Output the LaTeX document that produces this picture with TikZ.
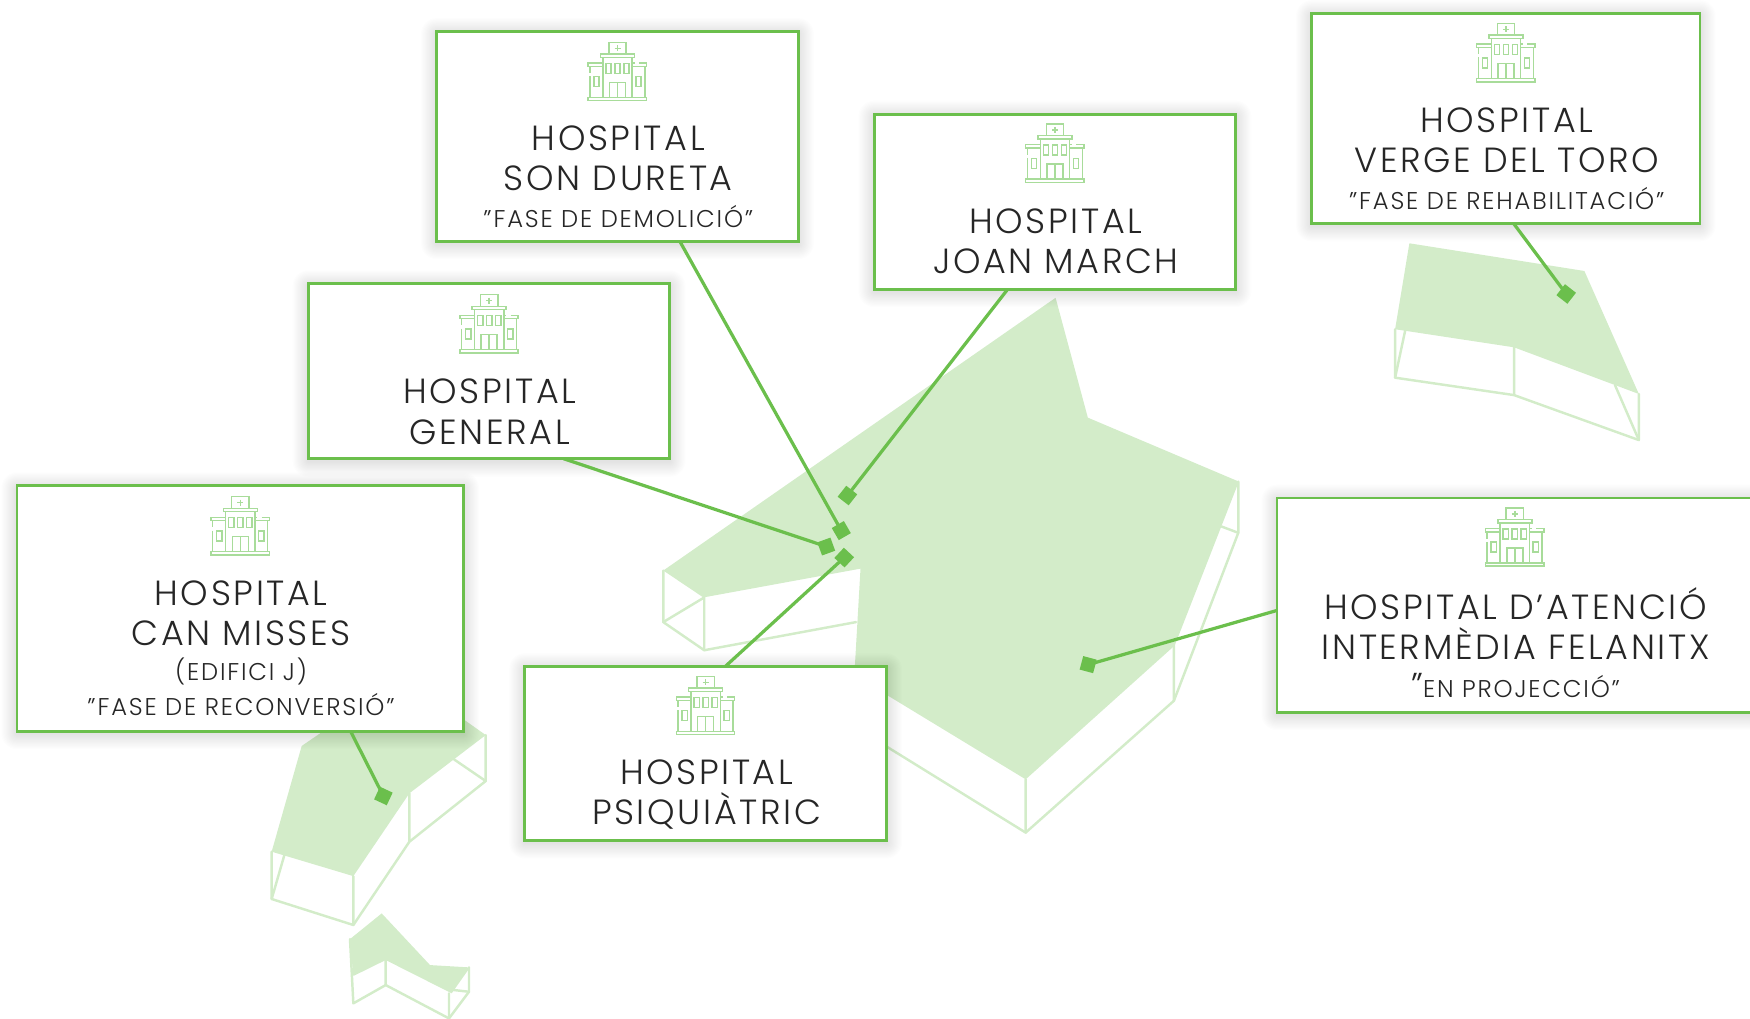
\documentclass[tikz,border=0pt]{standalone}
\usepackage{fontspec}
\setmainfont{Poppins Light}[LetterSpace=7.5]
\usetikzlibrary{calc}
\definecolor{boxgreen}{HTML}{6BBF4C}
\definecolor{palegreen}{HTML}{D3ECC9}
\definecolor{icongreen}{HTML}{A8DC9A}
\definecolor{inktext}{HTML}{262626}
\newcommand{\bigt}{\fontsize{31.3}{36}\selectfont}
\newcommand{\smallt}{\fontsize{21.7}{31}\selectfont}
\newcommand{\infopanel}[5]{%
  \foreach \k in {1,...,14}
    \fill[black,opacity=.007,rounded corners=\k pt] ({#2-#4/2-\k},{#3-#5/2-\k+2}) rectangle ({#2+#4/2+\k},{#3+#5/2+\k+2});
  \node[infobox,minimum width=#4pt,minimum height=#5pt] (#1) at (#2,#3) {};
}
\tikzset{
  x=1pt,y=-1pt,
  massfill/.style={fill=palegreen,draw=none},
  massline/.style={draw=palegreen,line width=2.2pt,line join=round,line cap=round},
  infobox/.style={draw=boxgreen,line width=2.6pt,fill=white,inner sep=0pt},
  labeltext/.style={align=center,inner sep=0pt,text=inktext,font=\bigt},
  leader/.style={draw=boxgreen,line width=2.9pt},
  endmark/.style={fill=boxgreen,draw=none,minimum size=12.5pt,inner sep=0pt,rectangle},
  hospic/.pic={
    \begin{scope}[x=0.2987pt,y=-0.2987pt,draw=icongreen,line width=1.3pt]
      \draw (-25,-87) rectangle (27,-52);
      \draw (1,-78) -- (1,-60) (-8,-69) -- (10,-69);
      \draw (-50,-52) rectangle (52,-42);
      \draw (-43,-42) -- (-43,78) (45,-42) -- (45,78);
      \draw (-87,-25) rectangle (-43,-15);
      \draw (45,-25) -- (52,-25) (65,-25) -- (88,-25) -- (88,-15) -- (45,-15);
      \draw (-82,-15) -- (-82,5) (-82,15) -- (-82,78) (83,-15) -- (83,78);
      \foreach \wx in {-34,-7,20} \draw (\wx,-24) rectangle ++(16,30);
      \draw (-70,16) rectangle (-54,46) (56,16) rectangle (72,46);
      \draw (-23,78) -- (-23,33) -- (25,33) -- (25,78) (1,33) -- (1,78);
      \draw (-87,78) rectangle (88,88);
    \end{scope}
  }
}
\begin{document}
\begin{tikzpicture}
\useasboundingbox (0,0) rectangle (1568,913);
\clip (0,0) rectangle (1568,913);
% building masses
\fill[massfill] (945.8,266.8) -- (974.7,374.2) -- (1110,431.5) -- (1052.6,578.3) -- (919,698.3) -- (765.5,605) -- (771,509.5) -- (630.2,535.3) -- (594.3,511.2) -- cycle;
\draw[massline] (594.3,511.2) -- (594.3,557.4) -- (631,582.6) -- (767,557.4);
\draw[massline] (631,535.3) -- (631,582.6) (594.3,557.4) -- (631,535.3);
\draw[massline] (1109.5,431.5) -- (1109.5,477.4) -- (1051.8,627.9) -- (919,746) -- (780,660);
\draw[massline] (919,698.3) -- (919,746) (1051.8,578.3) -- (1051.8,627.9) (1094.6,471.8) -- (1109.5,477.4);

\fill[massfill] (1262.8,218) -- (1419.6,242.8) -- (1468.4,353) -- (1356.6,311.2) -- (1250,295) -- cycle;
\draw[massline] (1250,295) -- (1250,338.4) -- (1356.6,354) -- (1468.4,394.3) -- (1468.4,353);
\draw[massline] (1356.6,311.2) -- (1356.6,354) (1259,296.3) -- (1250,338.4) (1447,345) -- (1468.4,394.3);

\fill[massfill] (270.3,668.4) -- (300,648) -- (416,645) -- (435.2,658.6) -- (366.8,710.8) -- (316.6,785) -- (243.4,763.1) -- cycle;
\draw[massline] (435.2,658.6) -- (435.2,699.8) -- (366.8,754.2) -- (316.6,828.8) -- (243.4,805.5) -- (243.4,763.1);
\draw[massline] (316.6,785) -- (316.6,828.8) (366.8,710.8) -- (366.8,754.2) (406.8,680.4) -- (435.2,699.8) (254.8,766.1) -- (243.4,805.5);

\fill[massfill] (313.6,841.4) -- (342,818.4) -- (385.3,864.7) -- (421.1,866.8) -- (404.7,890) -- (345.6,860.2) -- (316.6,874.5) -- cycle;
\draw[massline] (313.6,841.4) -- (316.6,899) -- (345.6,882.6) -- (402.3,912.5) -- (420.2,888.6) -- (420.2,866.8);
\draw[massline] (345.6,860.2) -- (345.6,882.6) (402.3,890) -- (402.3,912.5) (406.2,887) -- (420.2,888.6);

% end marks
\node[endmark,rotate=-60] (mdureta) at (753.8,475.4) {};
\node[endmark,rotate=-38] (mjoan) at (759.3,444) {};
\node[endmark,rotate=-70] (mgeneral) at (740.3,489.7) {};
\node[endmark,rotate=-43] (mpsiq) at (756.4,499.6) {};
\node[endmark,rotate=-15] (mfela) at (975,595.5) {};
\node[endmark,rotate=-38] (mverge) at (1403.3,263.4) {};
\node[endmark,rotate=-25] (mmisses) at (343.5,713.2) {};

% boxes
\infopanel{dureta}{553.2}{122.2}{324}{188}
\infopanel{joan}{945.2}{180.7}{324}{157}
\infopanel{verge}{1349.2}{106.2}{348}{188}
\infopanel{general}{438.2}{332.7}{324}{157}
\infopanel{misses}{215.2}{545.2}{400}{220}
\infopanel{psiq}{632.2}{675.2}{324}{156}
\infopanel{fela}{1369.2}{542.2}{450}{192}

% connector free ends on the box edges
\coordinate (cdureta) at (609,216);
\coordinate (cjoan) at (903,259);
\coordinate (cgeneral) at (505,411);
\coordinate (cpsiq) at (650,597);
\coordinate (cfela) at (1144,547);
\coordinate (cverge) at (1356,200);
\coordinate (cmisses) at (314,655);
\draw[leader] (cdureta) -- (mdureta.center);
\draw[leader] (cjoan) -- (mjoan.center);
\draw[leader] (cgeneral) -- (mgeneral.center);
\draw[leader] (cpsiq) -- (mpsiq.center);
\draw[leader] (cfela) -- (mfela.center);
\draw[leader] (cverge) -- (mverge.center);
\draw[leader] (cmisses) -- (mmisses.center);

% icons
\pic (idureta) at (553,64) {hospic};
\pic (ijoan) at (945,137) {hospic};
\pic (iverge) at (1349,47) {hospic};
\pic (igeneral) at (438,290) {hospic};
\pic (imisses) at (215,471) {hospic};
\pic (ipsiq) at (632,632) {hospic};
\pic (ifela) at (1357,481) {hospic};

% labels
\node[labeltext] (tdureta) at (554,158.5) {HOSPITAL\\SON DURETA\\[-3pt]{\smallt "FASE DE DEMOLICIÓ"}};
\node[labeltext] (tjoan) at (946,216.5) {HOSPITAL\\JOAN MARCH};
\node[labeltext] (tverge) at (1350,142.5) {HOSPITAL\\VERGE DEL TORO\\[-3pt]{\smallt "FASE DE REHABILITACIÓ"}};
\node[labeltext] (tgeneral) at (439,369) {HOSPITAL\\GENERAL};
\node[labeltext] (tmisses) at (216,581) {HOSPITAL\\CAN MISSES\\[-5pt]{\smallt (EDIFICI J)}\\[-4pt]{\smallt "FASE DE RECONVERSIÓ"}};
\node[labeltext] (tpsiq) at (633,712) {HOSPITAL\\PSIQUIÀTRIC};
\node[labeltext] (tfela) at (1358,575.5) {HOSPITAL D'ATENCIÓ\\INTERMÈDIA FELANITX\\[-2pt]{\smallt {\fontsize{31}{31}\selectfont "}EN PROJECCIÓ"}};
\end{tikzpicture}
\end{document}
